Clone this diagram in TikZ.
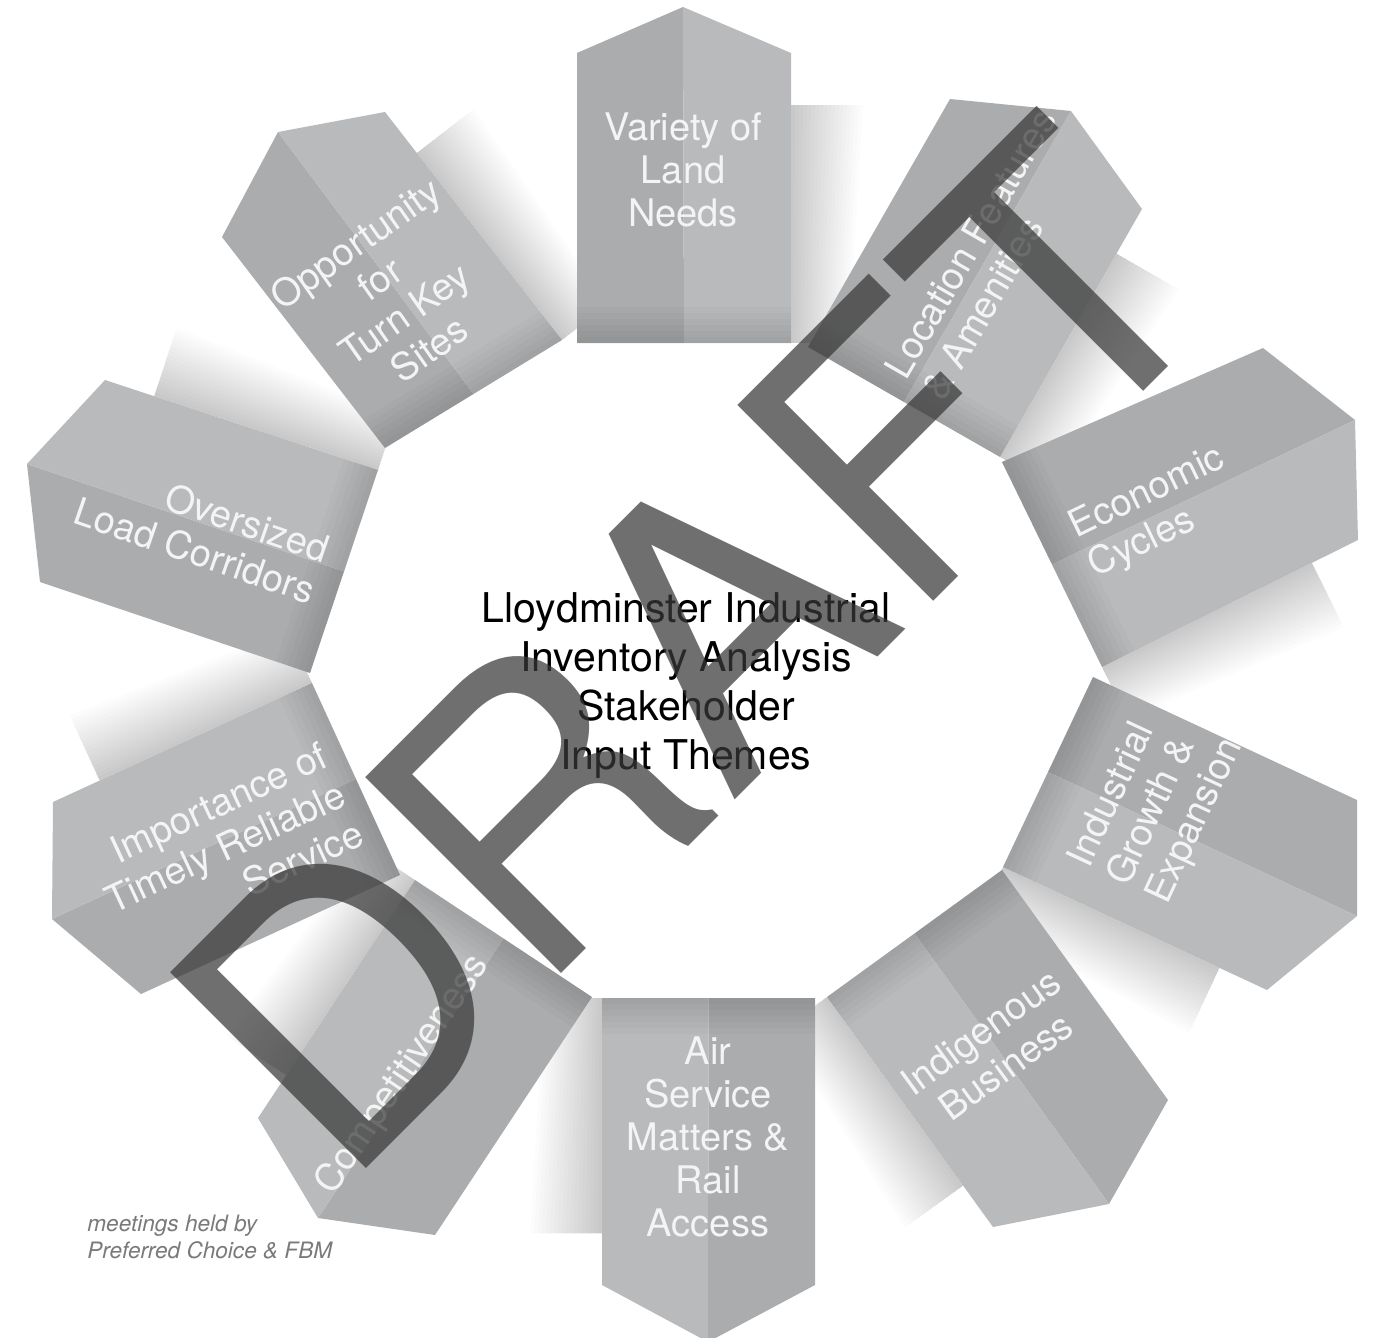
\documentclass[tikz,border=0pt]{standalone}
\usepackage{fontspec}
\setmainfont{TeX Gyre Heros}
\usetikzlibrary{calc}
\definecolor{pdark}{HTML}{ABACAE}
\definecolor{plight}{HTML}{B9BABC}
\definecolor{ptxt}{HTML}{F4F4F4}
\definecolor{wmark}{HTML}{383838}
\definecolor{foot}{HTML}{7A7A7A}
\begin{document}
\begin{tikzpicture}[x=0.5pt,y=-0.5pt,
  ptext/.style={text=ptxt, font=\fontsize{19}{21.5}\selectfont, inner sep=0pt},
  shadowlayer/.style={black, opacity=0.011},
  edgelayer/.style={black, opacity=0.018}]
\useasboundingbox (0,0) rectangle (1373,1338);
\fill[white] (0,0) rectangle (1373,1338);

% panel corner coordinates: il, ls, t, rs, ir
\coordinate (var-il) at (577,343);  \coordinate (var-ls) at (577,53);   \coordinate (var-t) at (683,7);     \coordinate (var-rs) at (791,53);   \coordinate (var-ir) at (791,343);
\coordinate (loc-il) at (808,347);  \coordinate (loc-ls) at (950,99);   \coordinate (loc-t) at (1071,111);  \coordinate (loc-rs) at (1142,209); \coordinate (loc-ir) at (1000,457);
\coordinate (eco-il) at (1002,462); \coordinate (eco-ls) at (1263,348); \coordinate (eco-t) at (1355,420);  \coordinate (eco-rs) at (1358,540); \coordinate (eco-ir) at (1102,667);
\coordinate (ind-il) at (1093,677); \coordinate (ind-ls) at (1357,800); \coordinate (ind-t) at (1357,916);  \coordinate (ind-rs) at (1267,990); \coordinate (ind-ir) at (1003,867);
\coordinate (igb-il) at (1002,870); \coordinate (igb-ls) at (1168,1100);\coordinate (igb-t) at (1109,1204); \coordinate (igb-rs) at (993,1227); \coordinate (igb-ir) at (827,997);
\coordinate (air-il) at (815,998);  \coordinate (air-ls) at (815,1285); \coordinate (air-t) at (708,1342);  \coordinate (air-rs) at (602,1285); \coordinate (air-ir) at (602,998);
\coordinate (cmp-il) at (592,997);  \coordinate (cmp-ls) at (435,1235); \coordinate (cmp-t) at (318,1218);  \coordinate (cmp-rs) at (258,1118); \coordinate (cmp-ir) at (415,880);
\coordinate (imp-il) at (400,875);  \coordinate (imp-ls) at (141,994);  \coordinate (imp-t) at (52,919);    \coordinate (imp-rs) at (53,802);   \coordinate (imp-ir) at (312,683);
\coordinate (ovr-il) at (310,673);  \coordinate (ovr-ls) at (40,582);   \coordinate (ovr-t) at (27,464);    \coordinate (ovr-rs) at (105,380);  \coordinate (ovr-ir) at (378,470);
\coordinate (opp-il) at (385,448);  \coordinate (opp-ls) at (222,237);  \coordinate (opp-t) at (278,132);   \coordinate (opp-rs) at (385,112);  \coordinate (opp-ir) at (562,340);

% soft shadows on the clockwise side of every panel
\foreach \n in {var,loc,eco,ind,igb,air,cmp,imp,ovr,opp}{
  \coordinate (\n-se) at ($(\n-ir)!0.82!(\n-rs)$);
  \foreach \k in {1,...,18}{
    \fill[shadowlayer] (\n-ir) -- (\n-se) -- ($(\n-se)!\k*2pt!90:(\n-ir)$) -- ($(\n-ir)!\k*1.6pt!-90:(\n-se)$) -- cycle;
  }
}

% folded panels
\foreach \n in {var,loc,eco,ind,igb,air,cmp,imp,ovr,opp}{
  \coordinate (\n-m) at ($(\n-il)!0.5!(\n-ir)$);
  \fill[pdark] (\n-il) -- (\n-ls) -- (\n-t) -- (\n-m) -- cycle;
  \fill[plight] (\n-m) -- (\n-t) -- (\n-rs) -- (\n-ir) -- cycle;
  \foreach \k in {1,...,6}{
    \fill[edgelayer] (\n-il) -- (\n-ir) -- ($(\n-ir)!\k*3pt!(\n-rs)$) -- ($(\n-il)!\k*3pt!(\n-ls)$) -- cycle;
  }
}

% panel labels
\node[ptext, align=center] (var-txt) at (683,170) {Variety of\\Land\\Needs};
\node[ptext, align=left, rotate=60] (loc-txt) at (989,254) {Location Features\\\& Amenities};
\node[ptext, align=left, rotate=26] (eco-txt) at (1157,513) {Economic\\Cycles};
\node[ptext, align=left, rotate=65] (ind-txt) at (1157,803) {Industrial\\Growth \&\\Expansion};
\node[ptext, align=center, rotate=36] (igb-txt) at (993,1049) {Indigenous\\Business};
\node[ptext, align=center] (air-txt) at (708,1137) {Air\\Service\\Matters \&\\Rail\\Access};
\node[ptext, rotate=56] (cmp-txt) at (403,1075) {Competitiveness};
\node[ptext, align=right, rotate=25] (imp-txt) at (225,847) {Importance of\\Timely Reliable\\Service};
\node[ptext, align=right, rotate=-19] (ovr-txt) at (202,530) {Oversized\\Load Corridors};
\node[ptext, align=center, rotate=35] (opp-txt) at (392,296) {Opportunity\\for\\Turn Key\\Sites};

% centre title
\node[align=center, text=black, inner sep=0pt, font=\fontsize{20.5}{24.5}\selectfont] (title) at (686,686)
  {Lloydminster Industrial\\Inventory Analysis\\Stakeholder\\Input Themes};

% footnote
\node[align=left, anchor=west, text=foot, inner sep=0pt, font=\fontsize{11.3}{13.5}\selectfont\itshape] (foot) at (87,1237)
  {meetings held by\\Preferred Choice \& FBM};

% watermark
\node[font=\fontsize{190}{190}\selectfont, text=wmark, text opacity=0.72, rotate=45, anchor=base, inner sep=0pt] (draft) at (790,745) {DRAFT};
\end{tikzpicture}
\end{document}
